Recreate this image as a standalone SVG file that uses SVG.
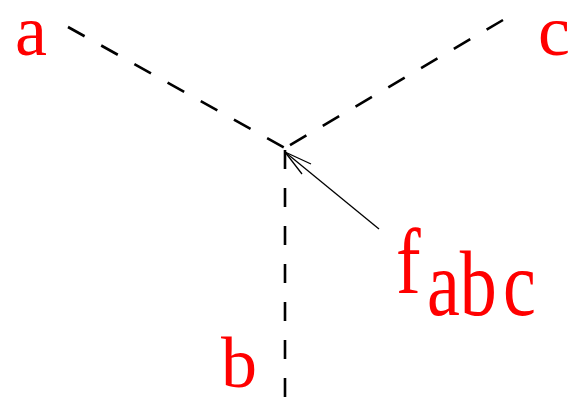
<svg xmlns="http://www.w3.org/2000/svg" width="576" height="400" viewBox="0 0 576 400">
<style>
.dash{fill:none;stroke:#000;stroke-width:2.6;stroke-dasharray:19 19}
.arr{fill:none;stroke:#000;stroke-width:1.3}
</style>
<g id="connectors">
<line class="dash" x1="68" y1="27" x2="285" y2="148"/>
<line class="dash" x1="503" y1="20" x2="285" y2="148"/>
<line class="dash" x1="285" y1="150" x2="285" y2="400"/>
<line class="arr" x1="379" y1="229" x2="285" y2="152"/>
<path class="arr" d="M311,164 L285,152 L302,174"/>
</g>
<g id="node-a"><text x="15" y="55" fill="#ff0000" font-family="Liberation Serif" font-size="72">a</text></g>
<g id="node-c"><text x="538" y="55" fill="#ff0000" font-family="Liberation Serif" font-size="72">c</text></g>
<g id="node-b"><text x="221" y="387" fill="#ff0000" font-family="Liberation Serif" font-size="72">b</text></g>
<g id="node-fabc"><text fill="#ff0000" font-family="Liberation Serif" font-size="74" transform="translate(0,293) scale(1,1.27)"><tspan x="396" y="0">f</tspan><tspan x="427" y="17">ab</tspan><tspan x="503" y="17">c</tspan></text></g>
</svg>
